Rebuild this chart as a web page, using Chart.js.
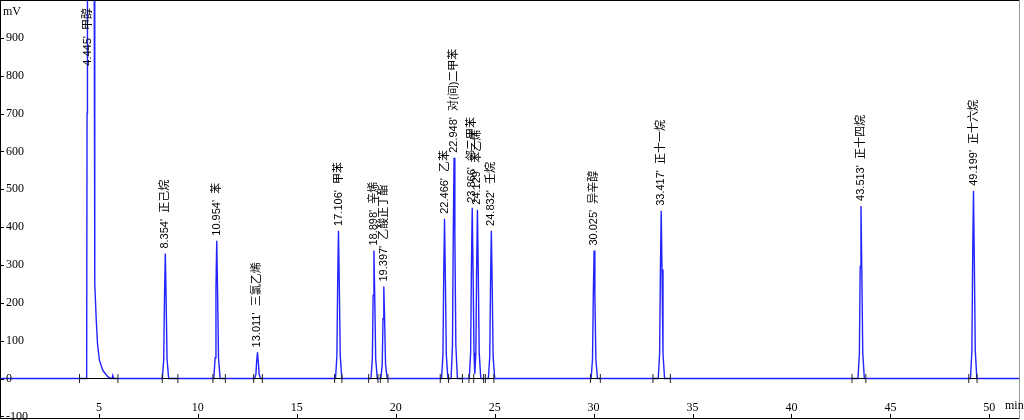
<!DOCTYPE html>
<html>
<head>
<meta charset="utf-8">
<script src="https://cdn.jsdelivr.net/npm/chart.js@4.4.1/dist/chart.umd.min.js"></script>
<style>
  html, body { margin: 0; padding: 0; background: #fff; }
  canvas { display: block; }
</style>
</head>
<body>
<canvas id="chrom" width="1024" height="420"></canvas>
<script>
// detector trace (min, mV)
const traceTime = [
  0, 4.38, 4.40, 4.42, 4.74, 4.76, 4.79, 4.86, 4.93, 5.03, 5.2, 5.45, 5.6, 5.66, 5.70, 5.74,
  8.204, 8.274, 8.314, 8.354, 8.394, 8.444, 8.524,
  10.804, 10.874, 10.914, 10.954, 10.994, 11.044, 11.124,
  12.861, 12.931, 12.971, 13.011, 13.051, 13.101, 13.181,
  16.956, 17.026, 17.066, 17.106, 17.146, 17.196, 17.276,
  18.748, 18.818, 18.858, 18.898, 18.938, 18.988, 19.068,
  19.247, 19.317, 19.357, 19.397, 19.437, 19.487, 19.567,
  22.316, 22.386, 22.426, 22.466, 22.506, 22.556, 22.636,
  22.798, 22.868, 22.908, 22.948, 22.988, 23.038, 23.118,
  23.716, 23.786, 23.826, 23.866, 23.906, 23.956, 23.996, 24.049, 24.089, 24.129, 24.169, 24.219, 24.299,
  24.682, 24.752, 24.792, 24.832, 24.872, 24.922, 25.002,
  29.875, 29.945, 29.985, 30.025, 30.065, 30.115, 30.195,
  33.267, 33.337, 33.377, 33.417, 33.457, 33.507, 33.587,
  43.363, 43.433, 43.473, 43.513, 43.553, 43.603, 43.683,
  49.049, 49.119, 49.159, 49.199, 49.239, 49.289, 49.369,
  51.6
];
const traceMv = [
  0, 0, 700, 1500, 1500, 1100, 250, 160, 90, 47, 21, 5, 0, 0, 8, 0,
  0, 50, 215, 330, 215, 50, 0,
  0, 55, 237, 364, 237, 55, 0,
  0, 10, 45, 69, 45, 10, 0,
  0, 59, 254, 390, 254, 59, 0,
  0, 51, 220, 338, 220, 51, 0,
  0, 36, 158, 243, 158, 36, 0,
  0, 63, 274, 422, 274, 63, 0,
  0, 87, 379, 583, 379, 87, 0,
  0, 68, 293, 451, 293, 68, 12, 67, 290, 446, 290, 67, 0,
  0, 59, 254, 390, 254, 59, 0,
  0, 51, 220, 338, 220, 51, 0,
  0, 66, 288, 443, 288, 66, 0,
  0, 68, 296, 456, 296, 68, 0,
  0, 74, 322, 496, 322, 74, 0,
  0
];

// peak table
const peakTimes   = [4.445, 8.354, 10.954, 13.011, 17.106, 18.898, 19.397, 22.466, 22.948, 23.866, 24.129, 24.832, 30.025, 33.417, 43.513, 49.199];
const peakHeights = [1500, 330, 364, 69, 390, 338, 243, 422, 583, 451, 446, 390, 338, 443, 456, 496];
const peakNames   = ['甲醇', '正己烷', '苯', '三氯乙烯', '甲苯', '辛烯', '乙酸正丁酯', '乙苯', '对(间)二甲苯',
                     '邻二甲苯', '苯乙烯', '壬烷', '异辛醇', '正十一烷', '正十四烷', '正十六烷'];

// integration baselines and their event marks
const baseStart = [4.02, 8.20, 10.76, 12.82, 16.91, 18.63, 19.22, 22.25, 22.67, 23.70, 23.94, 24.53, 29.84, 33.00, 43.06, 48.96];
const baseEnd   = [5.96, 8.99, 11.39, 13.26, 17.28, 19.10, 19.61, 22.67, 23.37, 23.94, 24.44, 24.96, 30.34, 33.88, 43.76, 49.38];

// axis ticks
const xTicks = [5, 10, 15, 20, 25, 30, 35, 40, 45, 50];
const yTicks = [-100, 0, 100, 200, 300, 400, 500, 600, 700, 800, 900];

const tracePts = traceTime.map((t, i) => ({ x: t, y: traceMv[i] }));
const segPts = [];
baseStart.forEach((s, i) => {
  segPts.push({ x: s, y: 0 }, { x: baseEnd[i], y: 0 }, { x: baseEnd[i], y: null });
});
const markPts = [...new Set(baseStart.concat(baseEnd))].map(t => ({ x: t, y: 0 }));

const serif = "'Liberation Serif', 'Times New Roman', serif";
const sans = "'Liberation Sans', Arial, 'Noto Sans CJK SC', sans-serif";

const decor = {
  id: 'decor',
  afterDraw(chart){
    const { ctx, chartArea: a, scales: { x, y } } = chart;
    ctx.save();
    // frame: left, bottom, top black; right grey
    ctx.lineWidth = 1;
    ctx.strokeStyle = '#000';
    ctx.beginPath();
    ctx.moveTo(a.left + 0.5, a.top); ctx.lineTo(a.left + 0.5, a.bottom);
    ctx.moveTo(a.left, a.bottom - 0.5); ctx.lineTo(a.right, a.bottom - 0.5);
    ctx.moveTo(a.left, a.top + 0.5); ctx.lineTo(a.right, a.top + 0.5);
    ctx.stroke();
    ctx.strokeStyle = '#999';
    ctx.beginPath();
    ctx.moveTo(a.right - 0.5, a.top); ctx.lineTo(a.right - 0.5, a.bottom);
    ctx.stroke();

    // inward tick marks
    ctx.strokeStyle = '#000';
    ctx.beginPath();
    yTicks.forEach(v => {
      const py = Math.round(y.getPixelForValue(v)) + 0.5;
      ctx.moveTo(a.left, py); ctx.lineTo(a.left + 4, py);
    });
    xTicks.forEach(v => {
      const px = Math.round(x.getPixelForValue(v)) + 0.5;
      ctx.moveTo(px, a.bottom); ctx.lineTo(px, a.bottom - 5);
    });
    ctx.stroke();

    // tick labels sit inside the plot
    ctx.fillStyle = '#000';
    ctx.font = '12px ' + serif;
    ctx.textBaseline = 'middle';
    ctx.textAlign = 'left';
    yTicks.forEach(v => {
      ctx.fillText(String(v), a.left + 6, y.getPixelForValue(v));
    });
    ctx.textAlign = 'center';
    xTicks.forEach(v => {
      ctx.fillText(String(v), x.getPixelForValue(v), a.bottom - 11);
    });
    ctx.textAlign = 'left';
    ctx.fillText('min', 1005, 406);
    ctx.fillText('mV', 3, 12);

    // peak labels, rotated
    ctx.font = '11px ' + sans;
    peakTimes.forEach((rt, i) => {
      const txt = rt.toFixed(3) + "'  " + peakNames[i];
      const w = ctx.measureText(txt).width;
      const px = x.getPixelForValue(rt);
      let start = y.getPixelForValue(peakHeights[i]) - 5;
      start = Math.max(start, a.top + 8 + w);
      ctx.save();
      ctx.translate(px, start);
      ctx.rotate(-Math.PI / 2);
      ctx.textAlign = 'left';
      ctx.fillText(txt, 0, 0);
      ctx.restore();
    });
    ctx.restore();
  }
};

new Chart(document.getElementById('chrom'), {
  type: 'line',
  data: {
    datasets: [
      { data: segPts, borderColor: '#000', borderWidth: 1, pointRadius: 0, spanGaps: false, order: 0 },
      { data: markPts, showLine: false, pointStyle: 'line', rotation: 90, pointRadius: 4.5,
        pointBorderColor: '#222', pointBorderWidth: 1, order: 0 },
      { data: tracePts, borderColor: 'rgb(35,35,255)', borderWidth: 1.4, pointRadius: 0, tension: 0, order: 1 }
    ]
  },
  options: {
    responsive: false,
    animation: false,
    devicePixelRatio: 1,
    layout: { autoPadding: false, padding: { left: 0, top: 0, right: 4, bottom: 1 } },
    plugins: { legend: { display: false }, tooltip: { enabled: false } },
    scales: {
      x: { type: 'linear', min: 0, max: 51.55, display: false },
      y: { min: -107, max: 1000, display: false }
    }
  },
  plugins: [decor]
});
</script>
</body>
</html>
